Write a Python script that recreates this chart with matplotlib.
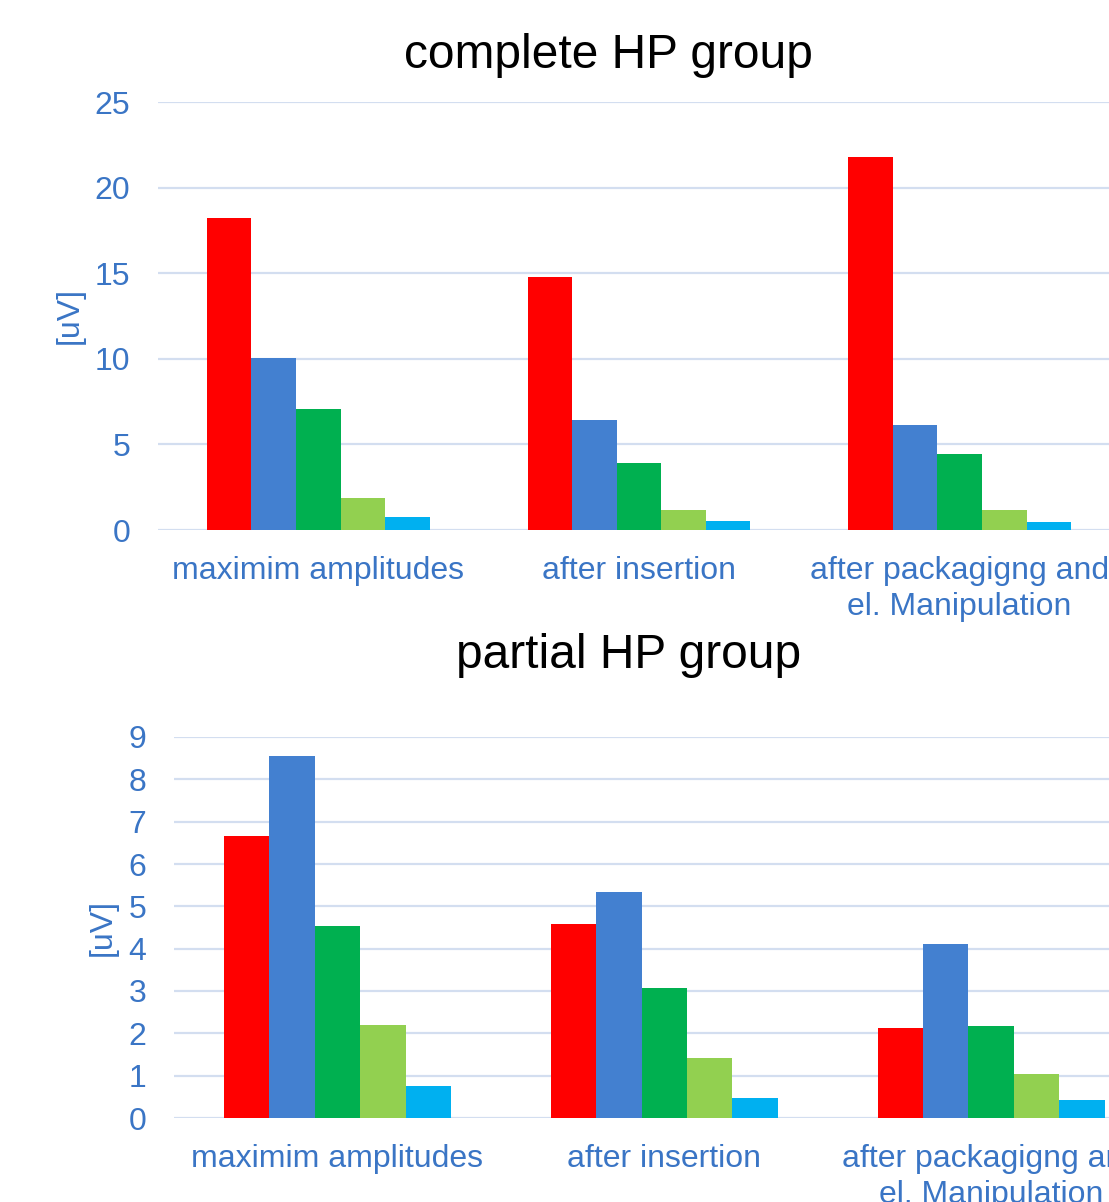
import matplotlib
matplotlib.use("Agg")
import matplotlib.pyplot as plt
import numpy as np

plt.rcParams['font.family'] = ['Liberation Sans', 'DejaVu Sans']

categories = ["maximim amplitudes", "after insertion", "after packagigng and\nel. Manipulation"]
series_colors = ["#FF0000", "#4380D0", "#00B050", "#92D050", "#00B0F0"]

complete_s1 = [18.2, 14.8, 21.8]
complete_s2 = [10.05, 6.45, 6.15]
complete_s3 = [7.05, 3.9, 4.45]
complete_s4 = [1.85, 1.15, 1.15]
complete_s5 = [0.75, 0.5, 0.45]

partial_s1 = [6.65, 4.58, 2.13]
partial_s2 = [8.55, 5.33, 4.1]
partial_s3 = [4.53, 3.07, 2.17]
partial_s4 = [2.2, 1.42, 1.04]
partial_s5 = [0.76, 0.47, 0.43]

complete_ticks = [0, 5, 10, 15, 20, 25]
partial_ticks = list(range(0, 10))

tick_color = "#3A75C5"
grid_color = "#D3DEF0"

W, H = 1109, 1202
fig = plt.figure(figsize=(W / 100, H / 100), dpi=100)


def draw(ax, series, ticks, ylim):
    n = len(series)
    x = np.arange(len(categories))
    bw = 0.695 / n
    for i, (vals, c) in enumerate(zip(series, series_colors)):
        ax.bar(x + (i - (n - 1) / 2) * bw, vals, width=bw, color=c,
               edgecolor="none", zorder=3)
    ax.set_xlim(-0.5, len(categories) - 0.5)
    ax.set_ylim(*ylim)
    ax.set_yticks(ticks)
    ax.set_xticks(x)
    ax.set_xticklabels(categories)
    for s in ax.spines.values():
        s.set_visible(False)
    ax.grid(axis="y", color=grid_color, linewidth=1.6, zorder=0)
    ax.tick_params(axis="both", length=0, colors=tick_color, labelsize=23)
    ax.tick_params(axis="y", pad=20)
    ax.tick_params(axis="x", pad=18.5)
    for lbl in ax.get_xticklabels():
        lbl.set_linespacing(1.27)


ax1 = fig.add_axes([158 / W, 1 - 530 / H, (1120 - 158) / W, 428 / H])
draw(ax1, [complete_s1, complete_s2, complete_s3, complete_s4, complete_s5],
     complete_ticks, (0, 25))

ax2 = fig.add_axes([174 / W, 1 - 1118 / H, (1154.5 - 174) / W, 381 / H])
draw(ax2, [partial_s1, partial_s2, partial_s3, partial_s4, partial_s5],
     partial_ticks, (0, 9))

fig.text(608 / W, 1 - 55 / H, "complete HP group", ha="center", va="center",
         fontsize=34.5, color="black")
fig.text(629 / W, 1 - 655 / H, "partial HP group", ha="center", va="center",
         fontsize=34.5, color="black")
fig.text(70 / W, 1 - 315 / H, "[uV]", rotation=90, ha="center", va="center",
         fontsize=23, color=tick_color)
fig.text(103 / W, 1 - 928 / H, "[uV]", rotation=90, ha="center", va="center",
         fontsize=23, color=tick_color)

fig.savefig("out.png", dpi=100)
